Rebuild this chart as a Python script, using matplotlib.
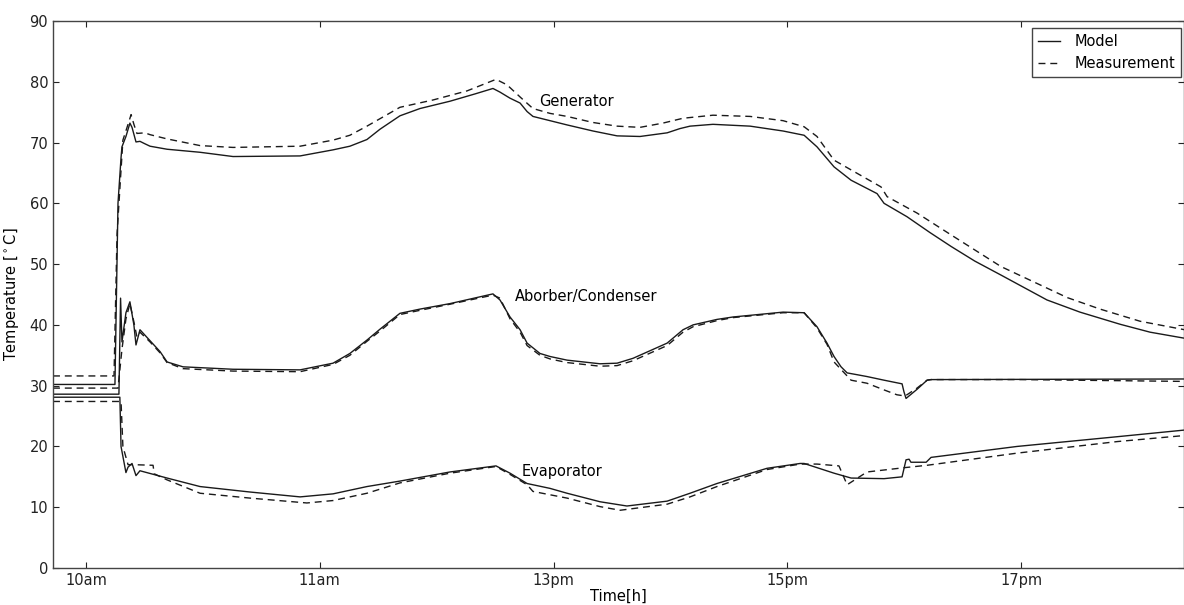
import numpy as np
import matplotlib
matplotlib.use('Agg')
import matplotlib.pyplot as plt

plt.rcParams['font.family'] = ['DejaVu Sans']
plt.rcParams['mathtext.default'] = 'regular'

# --- データ (時間: 目盛り間隔=1, 温度: °C) ---
gen_mod_t = [-0.141, 0.124, 0.137, 0.150, 0.154, 0.171, 0.188, 0.197, 0.214, 0.231, 0.252, 0.274,
             0.347, 0.488, 0.629, 0.916, 1.057, 1.129, 1.202, 1.258, 1.343, 1.429, 1.557, 1.664,
             1.741, 1.771, 1.814, 1.857, 1.887, 1.912, 1.985, 2.058, 2.169, 2.272, 2.370, 2.486,
             2.541, 2.584, 2.682, 2.841, 2.982, 3.072, 3.127, 3.200, 3.273, 3.384, 3.414, 3.512,
             3.610, 3.701, 3.802, 3.914, 4.111, 4.252, 4.424, 4.552, 4.70]
gen_mod_T = [30.2, 30.2, 60.0, 67.5, 69.3, 71.0, 73.2, 72.5, 70.1, 70.2, 69.8, 69.4,
             68.9, 68.4, 67.7, 67.8, 68.8, 69.4, 70.5, 72.2, 74.4, 75.6, 76.8, 78.0,
             78.9, 78.3, 77.3, 76.5, 75.1, 74.3, 73.6, 72.9, 71.9, 71.1, 71.0, 71.6,
             72.3, 72.7, 73.0, 72.7, 71.9, 71.2, 69.3, 66.0, 63.8, 61.6, 60.0, 57.8,
             55.2, 52.9, 50.5, 48.2, 44.1, 42.1, 40.1, 38.8, 37.8]

gen_meas_t = [-0.141, 0.120, 0.133, 0.158, 0.180, 0.193, 0.205, 0.218, 0.252, 0.274, 0.347,
              0.488, 0.629, 0.916, 1.057, 1.129, 1.202, 1.343, 1.484, 1.630, 1.754, 1.801,
              1.857, 1.912, 1.985, 2.058, 2.169, 2.272, 2.370, 2.468, 2.554, 2.682, 2.841,
              2.982, 3.072, 3.127, 3.200, 3.273, 3.401, 3.427, 3.555, 3.701, 3.914, 4.197,
              4.338, 4.509, 4.70]
gen_meas_T = [31.6, 31.6, 55.0, 70.4, 73.0, 74.6, 73.0, 71.5, 71.6, 71.3, 70.6,
              69.5, 69.2, 69.4, 70.4, 71.2, 72.7, 75.8, 77.0, 78.5, 80.4, 79.5,
              77.5, 75.6, 74.8, 74.3, 73.3, 72.7, 72.5, 73.2, 74.0, 74.5, 74.3,
              73.6, 72.6, 71.0, 67.1, 65.5, 62.7, 61.1, 58.4, 54.8, 49.6, 44.5,
              42.6, 40.6, 39.2]

abs_mod_t = [-0.141, 0.141, 0.148, 0.154, 0.171, 0.188, 0.205, 0.214, 0.231, 0.274, 0.317,
             0.347, 0.415, 0.629, 0.916, 1.057, 1.129, 1.202, 1.258, 1.343, 1.429, 1.557,
             1.741, 1.771, 1.814, 1.857, 1.887, 1.942, 1.985, 2.058, 2.199, 2.272, 2.340,
             2.486, 2.554, 2.597, 2.699, 2.768, 2.982, 3.072, 3.127, 3.170, 3.200, 3.230,
             3.256, 3.299, 3.341, 3.414, 3.491, 3.499, 3.508, 3.555, 3.598, 3.615, 4.70]
abs_mod_T = [28.6, 28.6, 44.4, 37.2, 42.0, 43.8, 40.0, 36.7, 39.2, 37.4, 35.6,
             33.9, 33.1, 32.7, 32.6, 33.7, 35.3, 37.5, 39.3, 41.9, 42.6, 43.5,
             45.1, 44.1, 41.3, 39.2, 37.0, 35.3, 34.8, 34.2, 33.6, 33.7, 34.5,
             37.0, 39.2, 40.0, 40.9, 41.3, 42.1, 42.0, 39.7, 37.0, 34.8, 33.1,
             32.1, 31.8, 31.5, 30.9, 30.3, 29.0, 27.9, 29.4, 30.9, 31.0, 31.1]

abs_meas_t = [-0.141, 0.137, 0.154, 0.171, 0.188, 0.205, 0.218, 0.231, 0.274, 0.317, 0.347,
              0.415, 0.629, 0.916, 1.057, 1.129, 1.202, 1.258, 1.343, 1.429, 1.557, 1.741,
              1.771, 1.814, 1.857, 1.887, 1.942, 1.985, 2.058, 2.199, 2.272, 2.340, 2.486,
              2.554, 2.597, 2.699, 2.768, 2.982, 3.072, 3.127, 3.170, 3.200, 3.273, 3.341,
              3.414, 3.469, 3.504, 3.555, 3.598, 3.615, 4.0, 4.70]
abs_meas_T = [29.6, 29.6, 36.0, 41.0, 43.5, 40.5, 38.0, 38.8, 37.2, 35.4, 33.8,
              32.8, 32.4, 32.3, 33.5, 35.0, 37.3, 39.0, 41.7, 42.4, 43.4, 44.9,
              44.4, 41.0, 38.8, 36.6, 35.0, 34.4, 33.8, 33.2, 33.3, 34.1, 36.6,
              38.8, 39.7, 40.7, 41.2, 42.0, 42.0, 39.5, 36.8, 33.9, 30.9, 30.4,
              29.3, 28.5, 28.3, 29.6, 30.9, 31.0, 31.0, 30.7]

evap_mod_t = [-0.141, 0.145, 0.150, 0.171, 0.180, 0.197, 0.214, 0.231, 0.347, 0.488, 0.702,
              0.916, 1.057, 1.202, 1.343, 1.557, 1.754, 1.814, 1.887, 1.985, 2.058, 2.199,
              2.314, 2.486, 2.584, 2.699, 2.913, 3.055, 3.072, 3.200, 3.273, 3.414, 3.491,
              3.508, 3.521, 3.529, 3.594, 3.615, 3.983, 4.411, 4.70]
evap_mod_T = [28.1, 28.1, 20.0, 15.7, 16.6, 17.2, 15.2, 16.0, 14.8, 13.4, 12.5,
              11.7, 12.2, 13.4, 14.3, 15.8, 16.8, 15.6, 13.9, 13.1, 12.3, 10.9,
              10.2, 11.0, 12.3, 13.9, 16.4, 17.2, 17.2, 15.6, 14.8, 14.7, 15.0,
              17.8, 17.9, 17.4, 17.4, 18.2, 20.0, 21.6, 22.7]

evap_meas_t = [-0.141, 0.150, 0.158, 0.180, 0.205, 0.287, 0.292, 0.347, 0.488, 0.702, 0.945,
               1.057, 1.202, 1.343, 1.557, 1.754, 1.814, 1.887, 1.912, 2.058, 2.199, 2.285,
               2.486, 2.584, 2.699, 2.913, 3.055, 3.127, 3.221, 3.256, 3.341, 3.499, 3.598,
               3.983, 4.411, 4.70]
evap_meas_T = [27.4, 27.4, 20.0, 17.0, 17.0, 16.9, 15.5, 14.5, 12.3, 11.5, 10.7,
               11.1, 12.3, 14.0, 15.6, 16.7, 15.4, 13.7, 12.6, 11.5, 10.1, 9.5,
               10.5, 11.7, 13.4, 16.2, 17.1, 17.1, 16.8, 13.7, 15.8, 16.5, 16.9,
               18.9, 20.8, 21.8]

tick_pos = [0, 1, 2, 3, 4]
tick_labels = ['10am', '11am', '13pm', '15pm', '17pm']

# --- 描画 ---
fig = plt.figure(figsize=(11.84, 6.05), dpi=100)
ax = fig.add_axes([53 / 1184, 1 - 568 / 605, 1 - 53 / 1184, (568 - 21) / 605])

line_kw = dict(color='#1a1a1a', lw=1.0)
dash = (5, 3.5)

ax.plot(gen_mod_t, gen_mod_T, '-', label='Model', **line_kw)
ax.plot(gen_meas_t, gen_meas_T, '--', dashes=dash, label='Measurement', **line_kw)
ax.plot(abs_mod_t, abs_mod_T, '-', **line_kw)
ax.plot(abs_meas_t, abs_meas_T, '--', dashes=dash, **line_kw)
ax.plot(evap_mod_t, evap_mod_T, '-', **line_kw)
ax.plot(evap_meas_t, evap_meas_T, '--', dashes=dash, **line_kw)

fs = 10.5
ax.text(1.938, 76.8, 'Generator', fontsize=fs, va='center', ha='left')
ax.text(1.835, 44.75, 'Aborber/Condenser', fontsize=fs, va='center', ha='left')
ax.text(1.865, 15.8, 'Evaporator', fontsize=fs, va='center', ha='left')

ax.set_xlim(-0.141, 4.697)
ax.set_ylim(0, 90)
ax.set_yticks(np.arange(0, 91, 10))
ax.set_xticks(tick_pos)
ax.set_xticklabels(tick_labels)
ax.tick_params(direction='in', top=True, right=True, length=4, width=0.8,
               labelsize=fs, colors='#222222')
for s in ax.spines.values():
    s.set_color('#444444')
    s.set_linewidth(1.0)

ax.set_xlabel('Time[h]', fontsize=fs, labelpad=1)
ax.set_ylabel('Temperature [$^\\circ$C]', fontsize=fs, labelpad=6)

leg = ax.legend(loc='upper right', bbox_to_anchor=(0.9973, 0.987), borderaxespad=0,
                fancybox=False, framealpha=1, edgecolor='#444444', fontsize=fs,
                handlelength=1.5, handletextpad=1.0)
leg.get_frame().set_linewidth(1.0)

fig.savefig('out.png', dpi=100)
